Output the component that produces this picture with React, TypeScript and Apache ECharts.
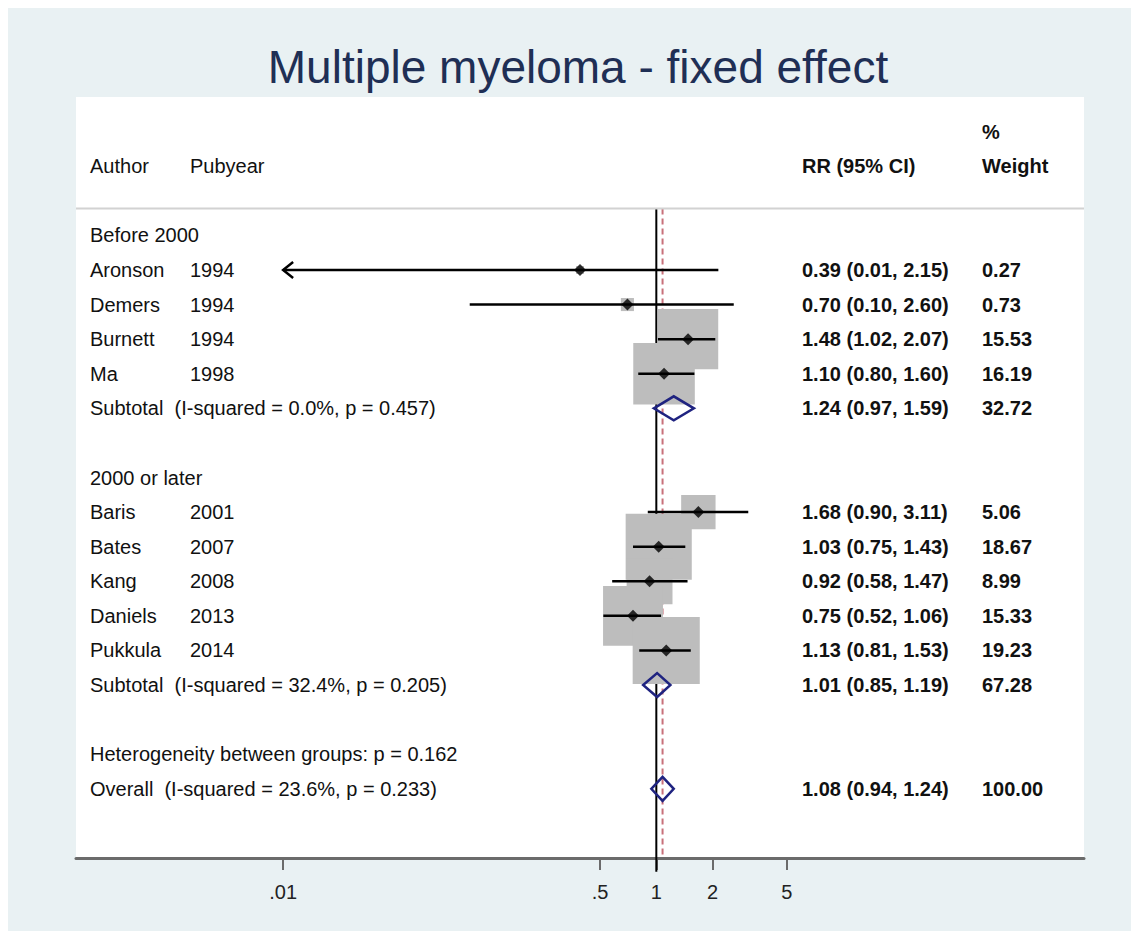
import { useEffect, useRef } from 'react'
import * as echarts from 'echarts'

// studies (one row each)
const studyAuthors = ['Aronson', 'Demers', 'Burnett', 'Ma', 'Baris', 'Bates', 'Kang', 'Daniels', 'Pukkula']
const studyYears = ['1994', '1994', '1994', '1998', '2001', '2007', '2008', '2013', '2014']
const studyRR = [0.39, 0.7, 1.48, 1.1, 1.68, 1.03, 0.92, 0.75, 1.13]
const studyLower = [0.01, 0.1, 1.02, 0.8, 0.9, 0.75, 0.58, 0.52, 0.81]
const studyUpper = [2.15, 2.6, 2.07, 1.6, 3.11, 1.43, 1.47, 1.06, 1.53]
const studyWeight = [0.27, 0.73, 15.53, 16.19, 5.06, 18.67, 8.99, 15.33, 19.23]
const studyRow = [1, 2, 3, 4, 8, 9, 10, 11, 12]

// pooled estimates (subtotals + overall)
const pooledLabels = [
  'Subtotal  (I-squared = 0.0%, p = 0.457)',
  'Subtotal  (I-squared = 32.4%, p = 0.205)',
  'Overall  (I-squared = 23.6%, p = 0.233)',
]
const pooledRR = [1.24, 1.01, 1.08]
const pooledLower = [0.97, 0.85, 0.94]
const pooledUpper = [1.59, 1.19, 1.24]
const pooledWeight = [32.72, 67.28, 100]
const pooledRow = [5, 13, 16]

// plain text rows
const groupLabels = ['Before 2000', '2000 or later', 'Heterogeneity between groups: p = 0.162']
const groupRow = [0, 7, 15]

// x axis (log scale)
const tickValues = [0.01, 0.5, 1, 2, 5]
const tickLabels = ['.01', '.5', '1', '2', '5']

const FONT = "'Liberation Sans', Arial, Helvetica, sans-serif"
const COL_AUTHOR = 82
const COL_YEAR = 182
const COL_RR = 794
const COL_WEIGHT = 974
const SEP_ROW = -0.78

const fmt = (v: number) => v.toFixed(2)
const ciText = (r: number, l: number, u: number) => `${fmt(r)} (${fmt(l)}, ${fmt(u)})`

type TRow = { row: number; a?: string; b?: string; c?: string; d?: string }

export default function App() {
  const ref = useRef<HTMLDivElement>(null)

  useEffect(() => {
    if (!ref.current) return
    const chart = echarts.init(ref.current, null, { renderer: 'svg' })

    const overall = pooledRR[pooledRR.length - 1]
    const minTick = Math.min(...tickValues)

    const table: TRow[] = [
      { row: -3, d: '%' },
      { row: -2, a: 'Author', b: 'Pubyear', c: 'RR (95% CI)', d: 'Weight' },
      ...studyAuthors.map((name, i) => ({
        row: studyRow[i], a: name, b: studyYears[i],
        c: ciText(studyRR[i], studyLower[i], studyUpper[i]), d: fmt(studyWeight[i]),
      })),
      ...pooledLabels.map((label, i) => ({
        row: pooledRow[i], a: label,
        c: ciText(pooledRR[i], pooledLower[i], pooledUpper[i]), d: fmt(pooledWeight[i]),
      })),
      ...groupLabels.map((label, i) => ({ row: groupRow[i], a: label })),
    ]

    const txt = (x: number, y: number, text: string, bold: boolean) => ({
      type: 'text', x, y,
      style: {
        text, fill: '#111', fontSize: 20, fontFamily: FONT, fontWeight: bold ? 'bold' : 'normal',
        align: 'left', verticalAlign: 'middle', textAlign: 'left', textVerticalAlign: 'middle',
      },
    })

    chart.setOption({
      animation: false,
      backgroundColor: '#e9f1f3',
      title: {
        text: 'Multiple myeloma - fixed effect',
        left: 565, top: 31, textAlign: 'center',
        textStyle: { fontSize: 46, fontWeight: 'normal', color: '#1f2f55', fontFamily: FONT },
      },
      grid: { left: 68, right: 47, top: 89, bottom: 73, show: true, backgroundColor: '#fff', borderWidth: 0 },
      xAxis: {
        type: 'value', min: -3.11, max: 2.292,
        axisLine: { onZero: false, lineStyle: { color: '#6b6b6b', width: 3 } },
        axisTick: { customValues: tickValues.map(Math.log10), length: 12, lineStyle: { color: '#6b6b6b', width: 2 } },
        axisLabel: {
          customValues: tickValues.map(Math.log10),
          margin: 24, fontSize: 20, color: '#222', fontFamily: FONT,
          formatter: (v: number) => {
            const i = tickValues.findIndex((t) => Math.abs(Math.log10(t) - v) < 1e-6)
            return i >= 0 ? tickLabels[i] : ''
          },
        },
        splitLine: { show: false },
      },
      yAxis: { type: 'value', min: -4, max: 18, inverse: true, show: false },
      series: [
        {
          // reference lines: null effect (solid) and overall estimate (dashed)
          type: 'custom', z: 1, clip: false,
          data: [[0, SEP_ROW, 18.4, 0], [Math.log10(overall), SEP_ROW, 18, 1]],
          encode: { x: 0, y: [1, 2] },
          renderItem: (_p: any, api: any) => {
            const a = api.coord([api.value(0), api.value(1)])
            const b = api.coord([api.value(0), api.value(2)])
            const dashed = api.value(3) === 1
            return {
              type: 'line',
              shape: { x1: a[0], y1: a[1], x2: b[0], y2: b[1] },
              style: dashed
                ? { stroke: '#c8707a', lineWidth: 2, lineDash: [6, 4] }
                : { stroke: '#000', lineWidth: 2 },
            }
          },
        },
        {
          // weight boxes
          type: 'scatter', z: 2,
          data: studyRR.map((r, i) => [Math.log10(r), studyRow[i]]),
          symbol: 'rect',
          symbolSize: (_v: any, p: any) => 15.3 * Math.sqrt(studyWeight[p.dataIndex]),
          itemStyle: { color: '#bdbdbd', opacity: 1 },
        },
        {
          // confidence intervals
          type: 'custom', z: 3,
          data: studyRR.map((_r, i) => [
            Math.log10(Math.max(studyLower[i], minTick)), studyRow[i], Math.log10(studyUpper[i]),
            studyLower[i] <= minTick ? 1 : 0,
          ]),
          encode: { x: [0, 2], y: 1 },
          renderItem: (_p: any, api: any) => {
            const a = api.coord([api.value(0), api.value(1)])
            const b = api.coord([api.value(2), api.value(1)])
            const children: any[] = [{
              type: 'line', shape: { x1: a[0], y1: a[1], x2: b[0], y2: b[1] },
              style: { stroke: '#000', lineWidth: 2.5 },
            }]
            if (api.value(3) === 1) {
              children.push({
                type: 'polyline',
                shape: { points: [[a[0] + 10, a[1] - 8], [a[0], a[1]], [a[0] + 10, a[1] + 8]] },
                style: { stroke: '#000', lineWidth: 2.5, fill: 'none' },
              })
            }
            return { type: 'group', children }
          },
        },
        {
          // point estimates
          type: 'scatter', z: 4,
          data: studyRR.map((r, i) => [Math.log10(r), studyRow[i]]),
          symbol: 'diamond', symbolSize: 12,
          itemStyle: { color: '#000' },
        },
        {
          // pooled diamonds
          type: 'custom', z: 5,
          data: pooledRR.map((r, i) => [Math.log10(pooledLower[i]), pooledRow[i], Math.log10(pooledUpper[i]), Math.log10(r)]),
          encode: { x: [0, 2, 3], y: 1 },
          renderItem: (_p: any, api: any) => {
            const l = api.coord([api.value(0), api.value(1)])
            const u = api.coord([api.value(2), api.value(1)])
            const c = api.coord([api.value(3), api.value(1)])
            return {
              type: 'polygon',
              shape: { points: [[l[0], l[1]], [c[0], c[1] - 12], [u[0], u[1]], [c[0], c[1] + 12]] },
              style: { fill: 'none', stroke: '#1f2380', lineWidth: 2.5 },
            }
          },
        },
        {
          // table text + header separator
          type: 'custom', z: 6, clip: false,
          data: table.map((t) => [0, t.row]),
          encode: { x: 0, y: 1 },
          renderItem: (p: any, api: any) => {
            const t = table[p.dataIndex]
            const y = api.coord([0, t.row])[1]
            const children: any[] = []
            if (t.a) children.push(txt(COL_AUTHOR, y, t.a, false))
            if (t.b) children.push(txt(COL_YEAR, y, t.b, false))
            if (t.c) children.push(txt(COL_RR, y, t.c, true))
            if (t.d) children.push(txt(COL_WEIGHT, y, t.d, true))
            if (p.dataIndex === 0) {
              const cs = p.coordSys
              const sy = api.coord([0, SEP_ROW])[1]
              children.push({
                type: 'line', shape: { x1: cs.x, y1: sy, x2: cs.x + cs.width, y2: sy },
                style: { stroke: '#d2d2d2', lineWidth: 2 },
              })
            }
            return { type: 'group', children }
          },
        },
      ],
    })

    return () => chart.dispose()
  }, [])

  return <div ref={ref} style={{ position: 'absolute', left: 8, top: 8, width: 1123, height: 923 }} />
}
